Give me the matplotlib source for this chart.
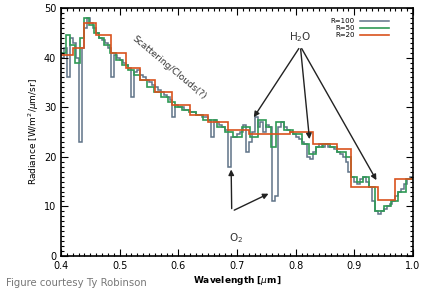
import numpy as np
import matplotlib
matplotlib.use("Agg")
import matplotlib.pyplot as plt
from matplotlib.ticker import MultipleLocator

# ---------------- data ----------------
# R=100 (fine) spectrum: bin edges every 0.005 um
gray_edges = np.round(np.arange(0.400, 1.0001, 0.005), 3)
gray_vals = [
    40, 42, 36, 44, 43, 40, 23, 42, 46, 48,
    47, 46, 45, 44, 43.5, 43, 42, 36, 40.5, 40,
    39.5, 39, 38.5, 38, 32, 37, 37.5, 36.5, 36, 35.5,
    35, 34.5, 34, 33.5, 33, 32.5, 32, 31.5, 28, 30.5,
    30, 30, 29.5, 29.5, 29, 29, 28.5, 28.5, 28, 28,
    27.5, 24, 27.5, 27, 26.5, 26, 25.5, 18, 24, 24,
    24.5, 25, 26.5, 21, 23, 25, 28, 26, 27, 25,
    26.5, 26, 11, 12, 26, 27, 26, 25.5, 25, 24.5,
    24, 23.5, 23, 22.5, 20, 19.5, 21, 22, 22.5, 22,
    22.5, 22, 22, 21.5, 21, 20.5, 20, 19, 17, 16,
    15, 14.5, 15.5, 16, 15, 14, 11, 9, 8.5, 9,
    9.5, 10, 10.5, 11, 12, 13, 13.5, 14.5, 15.5, 16,
]

# R=50 spectrum
green_edges = [0.400, 0.408, 0.416, 0.424, 0.432, 0.440, 0.448, 0.456, 0.464, 0.474,
               0.484, 0.494, 0.504, 0.514, 0.524, 0.534, 0.546, 0.558, 0.570, 0.582,
               0.594, 0.606, 0.618, 0.630, 0.642, 0.654, 0.666, 0.680, 0.694, 0.708,
               0.722, 0.736, 0.750, 0.758, 0.766, 0.780, 0.795, 0.810, 0.822, 0.834,
               0.846, 0.858, 0.870, 0.885, 0.895, 0.905, 0.915, 0.925, 0.935, 0.950,
               0.962, 0.975, 0.988, 1.000]
green_vals = [41, 44.5, 42.5, 39, 44, 48, 46.5, 45, 44, 42.5,
              41, 39.5, 38.5, 37.5, 36.5, 35.5, 34, 33, 32, 31,
              30, 29.5, 29, 28.5, 27.5, 27.5, 26, 25, 24, 26,
              24, 27.5, 26, 22, 27, 25.5, 24.5, 22.5, 20.5, 22,
              22.5, 22, 21, 20, 16, 15, 16, 14, 9, 10,
              11, 13, 15.5]

# R=20 spectrum
red_edges = [0.400, 0.420, 0.440, 0.460, 0.485, 0.510, 0.535, 0.560, 0.590, 0.620,
             0.650, 0.685, 0.720, 0.755, 0.790, 0.830, 0.870, 0.895, 0.940, 0.970, 1.000]
red_vals = [40.5, 42, 47, 44.5, 41, 38, 35.5, 33, 30.5, 28.5,
            27, 25.5, 24.5, 24.5, 25, 22.5, 21.5, 14, 11.3, 15.5]

series_labels = ["R=100", "R=50", "R=20"]
series_colors = ["#5f7388", "#2f9a55", "#d9531e"]

# ---------------- figure ----------------
fig = plt.figure(figsize=(4.25, 2.93), dpi=100)
ax = fig.add_axes([61 / 425, 37 / 293, 352 / 425, 248 / 293])

ax.stairs(gray_vals, gray_edges, color=series_colors[0], lw=1.1, label=series_labels[0], baseline=None)
ax.stairs(green_vals, green_edges, color=series_colors[1], lw=1.2, label=series_labels[1], baseline=None)
ax.stairs(red_vals, red_edges, color=series_colors[2], lw=1.2, label=series_labels[2], baseline=None)

ax.set_xlim(0.4, 1.0)
ax.set_ylim(0, 50)
ax.xaxis.set_major_locator(MultipleLocator(0.1))
ax.xaxis.set_minor_locator(MultipleLocator(0.01))
ax.yaxis.set_major_locator(MultipleLocator(10))
ax.yaxis.set_minor_locator(MultipleLocator(1))
ax.tick_params(which="both", direction="in", top=True, right=True, labelsize=7, width=0.8)
ax.tick_params(which="major", length=5)
ax.tick_params(which="minor", length=2.5)
for s in ax.spines.values():
    s.set_linewidth(1.2)

ax.set_xlabel("Wavelength [$\\mu$m]", fontsize=6.5, fontweight="bold", labelpad=2)
ax.set_ylabel("Radiance [W/m$^2$/$\\mu$m/sr]", fontsize=6.5, labelpad=2)

leg = ax.legend(loc="upper right", fontsize=5, frameon=False, markerfirst=False,
                handlelength=4.2, labelspacing=0.15, bbox_to_anchor=(0.95, 0.985))

# annotations
ax.text(0.585, 38.0, "Scattering/Clouds(?)", fontsize=6.6, rotation=-40,
        ha="center", va="center", color="#333333")

ax.text(0.808, 44.2, "H$_2$O", fontsize=7.5, ha="center", va="center", color="#333333")
h2o_targets = [(0.726, 27.5), (0.824, 23.0), (0.94, 14.8)]
for tx, ty in h2o_targets:
    ax.annotate("", xy=(tx, ty), xytext=(0.808, 42.3),
                arrowprops=dict(arrowstyle="-|>", color="#222222", lw=1.0, mutation_scale=8))

ax.text(0.698, 3.6, "O$_2$", fontsize=7.5, ha="center", va="center", color="#333333")
ax.annotate("", xy=(0.690, 18.0), xytext=(0.691, 9.0),
            arrowprops=dict(arrowstyle="-|>", color="#222222", lw=1.0, mutation_scale=8))
ax.annotate("", xy=(0.758, 12.8), xytext=(0.691, 9.0),
            arrowprops=dict(arrowstyle="-|>", color="#222222", lw=1.0, mutation_scale=8))

fig.text(6 / 425, 1 - 283 / 293, "Figure courtesy Ty Robinson", fontsize=7.3,
         color="#777777", va="center", ha="left")

fig.savefig("out.png", dpi=100)
